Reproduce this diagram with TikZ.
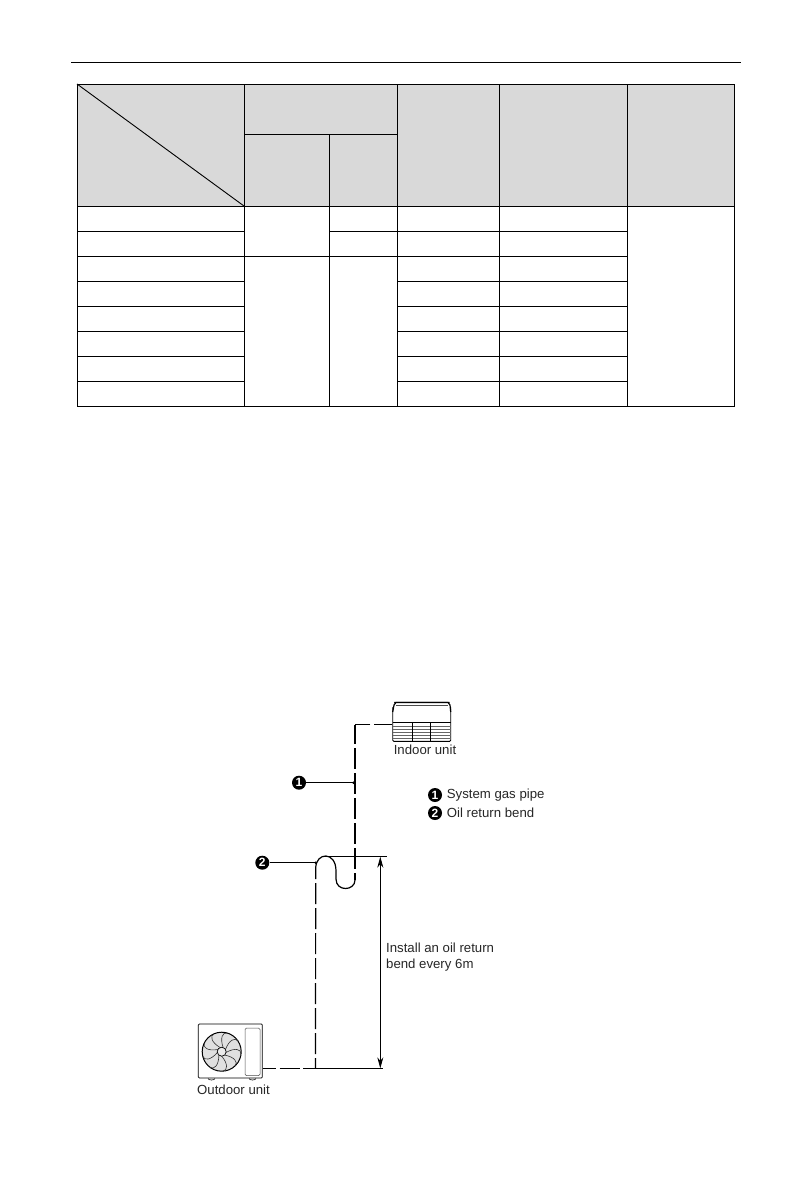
\documentclass[tikz,border=0pt]{standalone}
\usepackage{fontspec}
\setmainfont{Liberation Sans}
\usetikzlibrary{arrows.meta}
\definecolor{hdr}{HTML}{D9D9D9}
\tikzset{
  grid/.style={line width=1pt,black},
  lab/.style={font=\fontsize{13.2}{15}\selectfont,inner sep=0pt,text=black!85,anchor=west},
  num/.style={circle,fill=black,text=white,inner sep=0pt,minimum size=14pt,font=\bfseries\fontsize{12}{12}\selectfont},
  pipe/.style={line width=1.2pt},
  thin line/.style={line width=0.8pt},
  unit/.style={draw,line width=0.9pt,inner sep=0pt,rounded corners=1pt},
  dim/.style={line width=0.8pt,{Stealth[length=11pt,width=6pt]}-{Stealth[length=11pt,width=6pt]}},
  blade/.style={line width=0.6pt,black!80}
}
\begin{document}
\begin{tikzpicture}[x=1pt,y=-1pt]
\useasboundingbox (0,0) rectangle (811,1191);
% page rule
\draw[line width=1pt] (71,62) -- (741,62);
% table
\fill[hdr] (77,84) rectangle (734,206);
\draw[grid] (77,84) rectangle (734,406);
\draw[line width=0.9pt] (77,84) -- (244,206);
\foreach \x in {244,397,499,627} \draw[grid] (\x,84) -- (\x,406);
\draw[grid] (329,134) -- (329,406);
\draw[grid] (244,134) -- (397,134);
\draw[grid] (77,206) -- (734,206);
\draw[grid] (77,231) -- (244,231);
\draw[grid] (329,231) -- (627,231);
\draw[grid] (77,256) -- (627,256);
\foreach \y in {281,306,331,356,381} {
  \draw[grid] (77,\y) -- (244,\y);
  \draw[grid] (397,\y) -- (627,\y);
}
% indoor unit
\node[unit,minimum width=58pt,minimum height=39pt] (indoor) at (421.7,721.8) {};
\fill[white] (390,700) rectangle (394,707) (449.5,700) rectangle (453,707);
\draw[line width=1.2pt] (392.7,712) -- (394,705) -- (396,702.5) -- (448,702.5) -- (450,705) -- (450.7,712);
\draw[line width=0.5pt,black!70] (396,705.5) -- (448,705.5);
\draw[line width=0.9pt] (392.7,722.7) -- (450.7,722.7);
\foreach \y in {726,729,732,735,738} \draw[line width=0.5pt,black!60] (392.7,\y) -- (450.7,\y);
\draw[line width=0.7pt] (412.5,722.7) -- (412.5,741.3) (430.5,722.7) -- (430.5,741.3);
\node[lab,anchor=center] (indoorlabel) at (425,750) {Indoor unit};
% outdoor unit
\node[unit,line width=0.7pt,minimum width=64pt,minimum height=54pt] (outdoor) at (230.3,1051) {};
\draw[line width=0.5pt,black!70,rounded corners=1.5pt] (245,1028) rectangle (260,1075.7);
\node[circle,draw,fill=black!12,line width=1pt,minimum size=39pt,inner sep=0pt] (fan) at (221.7,1051.7) {};
\foreach \a in {0,40,...,320}
  \draw[blade,rotate around={\a:(221.7,1051.7)}] (225.5,1049.5) .. controls (229,1040) and (235,1037) .. (238,1041);
\node[circle,draw,fill=black!8,line width=0.7pt,minimum size=9pt,inner sep=0pt] (hub) at (221.7,1051.7) {};
\draw[line width=0.6pt] (208,1078.5) arc[start angle=180,end angle=0,x radius=3.5pt,y radius=-1.5pt];
\draw[line width=0.6pt] (249,1078.5) arc[start angle=180,end angle=0,x radius=3.5pt,y radius=-1.5pt];
\node[lab,anchor=center] (outdoorlabel) at (233.5,1090) {Outdoor unit};
% pipe
\coordinate (corner) at (355,724.7);
\coordinate (vsplit) at (355,744);
\coordinate (vdash) at (355,748);
\coordinate (bendtop) at (355,880);
\coordinate (basejoin) at (315.5,1068.3);
\coordinate (ovtop) at (315.7,868);
\coordinate (ovdash) at (315.7,883);
\draw[pipe,dash pattern=on 18.7pt off 3.3pt on 15.7pt off 10pt] (indoor.west |- corner) -- (corner);
\draw[pipe] (corner) -- (vsplit);
\draw[pipe,dash pattern=on 21pt off 4pt] (vdash) -- (bendtop);
\draw[line width=1.2pt] (bendtop) .. controls (355,891) and (336,892) .. (336,879)
  -- (336,871) .. controls (336,851) and (316,852) .. (ovtop) -- (315.7,879);
\draw[pipe,dash pattern=on 21pt off 4pt] (ovdash) -- (basejoin);
\draw[pipe,dash pattern=on 20pt off 3.5pt,dash phase=6.6pt] (outdoor.east |- basejoin) -- (basejoin);
% dimension
\coordinate (exttopl) at (321.7,856.7);
\coordinate (exttopr) at (387.3,856.7);
\coordinate (dimtop) at (380.3,856.7);
\coordinate (dimbot) at (380.3,1068.3);
\coordinate (extbotr) at (382.5,1068.3);
\draw[thin line] (exttopl) -- (exttopr);
\draw[thin line] (basejoin) -- (extbotr);
\draw[dim] (dimtop) -- (dimbot);
\node[lab] (note1) at (386,947.7) {Install an oil return};
\node[lab] (note2) at (386,965) {bend every 6m};
% callouts
\node[num] (c1) at (299,782.7) {1};
\coordinate (t1) at (355,782.7);
\draw[line width=0.9pt] (c1) -- (t1);
\fill (t1) ++(-1.5,0) circle (1.3pt);
\node[num] (c2) at (262.3,862.7) {2};
\coordinate (t2) at (315.7,862.7);
\draw[line width=0.9pt] (c2) -- (t2);
\fill (t2) circle (1.3pt);
% legend
\node[num] (k1) at (435,795) {1};
\node[lab] (k1t) at (446.7,795) {System gas pipe};
\node[num] (k2) at (435,813) {2};
\node[lab] (k2t) at (446.7,813) {Oil return bend};
\end{tikzpicture}
\end{document}
